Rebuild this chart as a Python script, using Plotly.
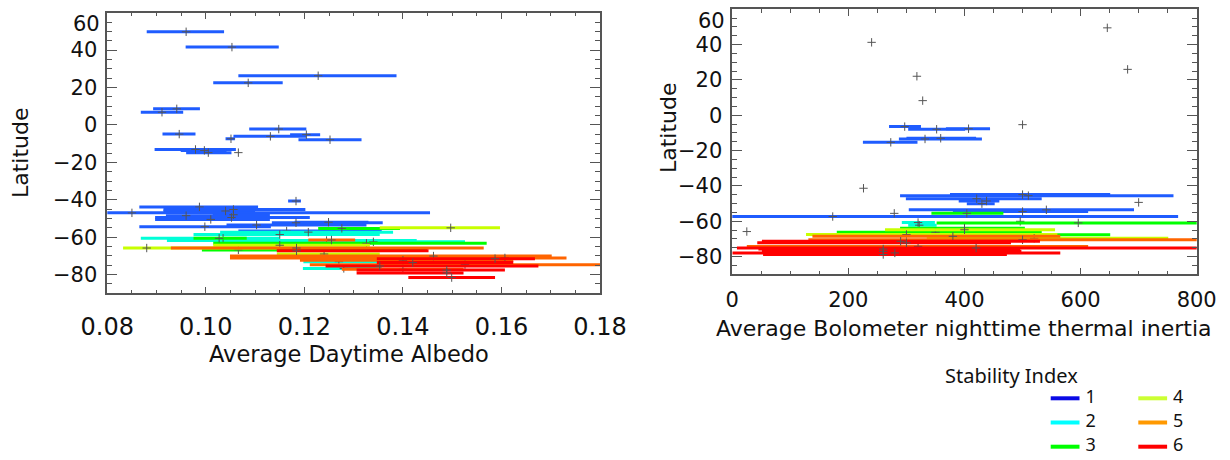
import plotly.graph_objects as go

# ---------------- data: left panel (albedo) ----------------
alb_lat = [49.8, 41.6, 26.3, 22.5, 8.6, 6.8, -2.2, -4.9, -5.2, -6.1, -7.4, -7.9, -13.1, -13.6, -14.8, -14.8,
           -40.7, -43.8, -45.2, -46.0, -47.0, -48.0, -48.5, -49.5, -50.5, -52.3, -52.0, -53.5, -54.4, -56.7,
           -57.3, -58.6, -60.6, -61.8, -62.5, -73.1, -76.7,
           -55.3, -60.6, -63.3, -66.8,
           -55.0, -64.3, -65.8, -69.0,
           -61.5, -65.8, -70.1, -71.1, -72.3, -74.7, -77.2,
           -67.3, -71.5, -73.6, -75.4, -77.6, -79.1, -81.6]
alb_mid = [0.0960, 0.1053, 0.1228, 0.1086, 0.0941, 0.0911, 0.1148, 0.0946, 0.1204, 0.1131, 0.1051, 0.1252, 0.0979, 0.0997, 0.1005, 0.1066,
           0.1183, 0.0987, 0.1056, 0.1040, 0.0850, 0.1056, 0.0960, 0.1052, 0.1010, 0.1183, 0.1249, 0.1103, 0.0998, 0.1164,
           0.1208, 0.1150, 0.1035, 0.1245, 0.1340, 0.1270, 0.1280,
           0.1276, 0.1027, 0.1326, 0.1066,
           0.1497, 0.1150, 0.0880, 0.1240,
           0.1255, 0.1184, 0.1462, 0.1607, 0.1400, 0.1526, 0.1400,
           0.1184, 0.1587, 0.1420, 0.1353, 0.1489, 0.1489, 0.1499]
alb_lo = [0.0880, 0.0959, 0.1066, 0.1015, 0.0893, 0.0868, 0.1088, 0.0912, 0.1171, 0.1056, 0.1040, 0.1188, 0.0896, 0.0949, 0.0960, 0.1066,
          0.1167, 0.0865, 0.0914, 0.0914, 0.0750, 0.1014, 0.0919, 0.0897, 0.0897, 0.1134, 0.1180, 0.1042, 0.0865, 0.1066,
          0.1029, 0.0975, 0.0868, 0.0921, 0.1154, 0.1198, 0.1197,
          0.1228, 0.0975, 0.1015, 0.0992,
          0.1353, 0.1015, 0.0832, 0.1144,
          0.1208, 0.0929, 0.1049, 0.1049, 0.1191, 0.1211, 0.1276,
          0.1144, 0.1347, 0.1347, 0.1243, 0.1306, 0.1306, 0.1411]
alb_hi = [0.1037, 0.1148, 0.1387, 0.1156, 0.0988, 0.0954, 0.1204, 0.0979, 0.1232, 0.1204, 0.1059, 0.1316, 0.1061, 0.1042, 0.1052, 0.1066,
          0.1193, 0.1106, 0.1202, 0.1100, 0.1455, 0.1130, 0.1015, 0.1211, 0.1130, 0.1359, 0.1330, 0.1326, 0.1132, 0.1357,
          0.1380, 0.1353, 0.1150, 0.1428, 0.1526, 0.1357, 0.1357,
          0.1394, 0.1083, 0.1570, 0.1449,
          0.1597, 0.1333, 0.1144, 0.1353,
          0.1303, 0.1564, 0.1702, 0.1732, 0.1624, 0.1850, 0.1523,
          0.1452, 0.1668, 0.1624, 0.1675, 0.1607, 0.1523, 0.1587]
alb_idx = [1] * 30 + [2] * 7 + [3] * 4 + [4] * 4 + [5] * 7 + [6] * 7

# ---------------- data: right panel (thermal inertia) ----------------
ti_lat = [41.3, 22.1, 8.3, 49.5, 26.0, -5.3, -41.3, -49.3, -55.5, -65.8, -60.0,
          -6.4, -7.9, -7.6, -13.4, -13.0, -15.3, -44.9, -45.5, -47.2, -48.5, -50.0, -53.5, -54.5, -57.3,
          -60.7, -62.2, -76.6,
          -55.5, -60.9, -63.9, -66.2, -67.6,
          -64.8, -67.5, -69.6,
          -68.5, -70.5, -74.2,
          -71.3, -72.2, -75.1, -75.7, -77.0, -77.9, -78.8]
ti_mid = [240, 318, 328, 646, 681, 500, 226, 700, 279, 25, 496,
          297, 352, 407, 332, 359, 273, 500, 510, 421, 438, 430, 541, 500, 173,
          320, 322, 170,
          404, 596, 400, 350, 400,
          400, 300, 520,
          380, 500, 320,
          290, 300, 420, 260, 260, 280, 260]
ti_lo = [240, 318, 328, 646, 681, 500, 226, 700, 279, 25, 496,
         270, 303, 368, 287, 300, 225, 375, 289, 299, 390, 404, 304, 380, -5,
         292, 303, 65,
         343, 352, 289, 180, 157,
         263, 127, 335,
         138, 131, 25,
         51, 43, 8, 45, 51, 0, 53]
ti_hi = [240, 318, 328, 646, 681, 500, 226, 700, 279, 25, 496,
         325, 401, 444, 430, 420, 319, 651, 760, 533, 460, 452, 692, 613, 768,
         349, 352, 272,
         467, 850, 504, 533, 651,
         556, 560, 751,
         565, 850, 613,
         530, 480, 850, 496, 498, 565, 473]
ti_idx = [1] * 25 + [2] * 3 + [3] * 5 + [4] * 3 + [5] * 3 + [6] * 7

# ---------------- legend / ticks ----------------
stab_names = ["1", "2", "3", "4", "5", "6"]
bar_colors = ["#1f5cff", "#00ffd8", "#00ff00", "#c8ff00", "#ff6400", "#ff0000"]
legend_colors = ["#0a0ae6", "#00ffff", "#00ff00", "#ccff33", "#ff9900", "#ff0000"]
lat_ticks = [-80, -60, -40, -20, 0, 20, 40]
lat_text = ["\u221280", "\u221260", "\u221240", "\u221220", "0", "20", "40"]

W, H = 1230, 460


def fy(px):
    return 1 - px / H


fig = go.Figure()

panels = [
    (alb_lat, alb_mid, alb_lo, alb_hi, alb_idx, "x", "y"),
    (ti_lat, ti_mid, ti_lo, ti_hi, ti_idx, "x2", "y2"),
]
for lat, mid, lo, hi, idx, xa, ya in panels:
    for k in range(1, 7):
        sel = [i for i in range(len(lat)) if idx[i] == k]
        if not sel:
            continue
        xs = [mid[i] for i in sel]
        ys = [lat[i] for i in sel]
        plus = [hi[i] - mid[i] for i in sel]
        minus = [mid[i] - lo[i] for i in sel]
        fig.add_trace(go.Scatter(
            x=xs, y=ys, mode="markers", xaxis=xa, yaxis=ya, showlegend=False, hoverinfo="skip",
            marker=dict(symbol="cross-thin", size=6, color="#555555", line=dict(width=1, color="#555555")),
            error_x=dict(type="data", symmetric=False, array=plus, arrayminus=minus,
                         color=bar_colors[k - 1], thickness=3, width=0),
        ))

# ---- legend, drawn in its own small (hidden) axis: two columns of three keys ----
KEY_X0, KEY_DX, KEY_LEN, ROW_Y0, ROW_DY, LABEL_GAP = 10.7, 87.6, 28.8, 18.3, 24.2, 6
leg_font = dict(family="Noto Sans", size=18, color="#111111")
for i, name in enumerate(stab_names):
    col, row = divmod(i, 3)
    x0 = KEY_X0 + col * KEY_DX
    yk = ROW_Y0 + row * ROW_DY
    fig.add_trace(go.Scatter(x=[x0, x0 + KEY_LEN], y=[yk, yk], mode="lines", xaxis="x3", yaxis="y3",
                             line=dict(color=legend_colors[i], width=4), showlegend=False, hoverinfo="skip"))
    fig.add_trace(go.Scatter(x=[x0 + KEY_LEN + LABEL_GAP], y=[yk], mode="text", text=[name],
                             textposition="middle right", textfont=leg_font, xaxis="x3", yaxis="y3",
                             showlegend=False, hoverinfo="skip"))

axcol = "#555555"
txt = "#111111"
tf_y = dict(family="DejaVu Sans", size=21, color=txt)


def xax(domain, rng, dtick, minor, size, standoff, fmt=None):
    d = dict(domain=domain, range=rng, dtick=dtick, tick0=rng[0], showgrid=False, zeroline=False,
             showline=True, linecolor=axcol, linewidth=1.5, mirror="allticks", ticks="inside",
             ticklen=7, tickcolor=axcol, tickwidth=1.2,
             minor=dict(dtick=minor, ticklen=4, tickcolor=axcol, ticks="inside", tickwidth=1),
             tickfont=dict(family="DejaVu Sans", size=size, color=txt),
             ticklabelstandoff=standoff, automargin=False)
    if fmt:
        d["tickformat"] = fmt
    return d


def yax(domain, anchor):
    return dict(domain=domain, range=[-90, 60], tickmode="array",
                tickvals=lat_ticks + [60], ticktext=lat_text + [""],
                showgrid=False, zeroline=False,
                showline=True, linecolor=axcol, linewidth=1.5, mirror="allticks", ticks="inside",
                ticklen=10, tickcolor=axcol, tickwidth=1.2,
                minor=dict(dtick=5, tick0=0, ticklen=5, tickcolor=axcol, ticks="inside", tickwidth=1),
                tickfont=tf_y, ticklabelstandoff=4, automargin=False, anchor=anchor)


fig.update_layout(
    width=W, height=H, margin=dict(l=0, r=0, t=0, b=0, autoexpand=False),
    paper_bgcolor="white", plot_bgcolor="white", showlegend=False,
    xaxis=dict(xax([107.3 / W, 600 / W], [0.08, 0.18], 0.02, 0.005, 24, 11, ".2f"), anchor="y"),
    yaxis=yax([fy(293.3), fy(12.7)], "x"),
    xaxis2=dict(xax([732.3 / W, 1196.7 / W], [0, 800], 200, 50, 21, 6), anchor="y2"),
    yaxis2=yax([fy(274.3), fy(9.3)], "x2"),
    xaxis3=dict(domain=[1040 / W, 1200 / W], range=[0, 160], visible=False, anchor="y3", fixedrange=True),
    yaxis3=dict(domain=[fy(460), fy(380)], range=[80, 0], visible=False, anchor="x3", fixedrange=True),
    annotations=[
        # the top "60" labels sit a little below the top tick, as in the reference
        dict(text="60", xref="x domain", yref="y", x=0, y=54.2, xanchor="right", yanchor="middle",
             xshift=-5, showarrow=False, font=tf_y),
        dict(text="60", xref="x2 domain", yref="y2", x=0, y=53.2, xanchor="right", yanchor="middle",
             xshift=-5, showarrow=False, font=tf_y),
        dict(text="Latitude", x=21 / W, y=fy(153), xref="paper", yref="paper", showarrow=False,
             textangle=-90, font=dict(family="DejaVu Sans", size=22, color=txt),
             xanchor="center", yanchor="middle"),
        dict(text="Latitude", x=669 / W, y=fy(128), xref="paper", yref="paper", showarrow=False,
             textangle=-90, font=dict(family="DejaVu Sans", size=22, color=txt),
             xanchor="center", yanchor="middle"),
        dict(text="Average Daytime Albedo", x=349 / W, y=fy(354), xref="paper", yref="paper",
             showarrow=False, font=dict(family="DejaVu Sans", size=22.5, color=txt),
             xanchor="center", yanchor="middle"),
        dict(text="Average Bolometer nighttime thermal inertia", x=964 / W, y=fy(328), xref="paper",
             yref="paper", showarrow=False, font=dict(family="DejaVu Sans", size=22, color=txt),
             xanchor="center", yanchor="middle"),
        dict(text="Stability Index", x=943 / W, y=fy(375), xref="paper", yref="paper",
             showarrow=False, font=dict(family="Noto Sans", size=20, color=txt),
             xanchor="left", yanchor="middle"),
    ],
)

fig.write_html("out.html")
